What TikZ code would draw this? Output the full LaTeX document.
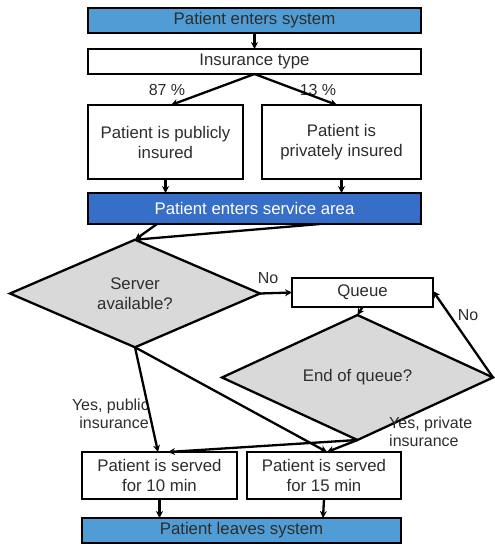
\documentclass[tikz,border=0pt]{standalone}
\usepackage{fontspec}
\setmainfont{Liberation Sans}
\usetikzlibrary{shapes.geometric,arrows.meta}
\definecolor{lblue}{RGB}{80,157,214}
\definecolor{dblue}{RGB}{54,110,200}
\definecolor{dgray}{RGB}{217,217,217}
\definecolor{txt}{RGB}{45,45,45}
\begin{document}
\begin{tikzpicture}[x=1pt,y=-1pt,
  base/.style={draw=black,line width=2.3pt,inner sep=0pt,outer sep=0pt,align=center,text=txt,
    font=\fontsize{16.8}{20}\selectfont},
  box/.style={base,rectangle},
  decision/.style={base,diamond,fill=dgray},
  lbl/.style={text=txt,font=\fontsize{16}{18}\selectfont,inner sep=0pt},
  arr/.style={line width=2.3pt,-{Stealth[length=7pt,width=7pt]}}]
\useasboundingbox (0,0) rectangle (495,544);
% nodes
\node[box,fill=lblue,minimum width=333pt,minimum height=25pt] (enter) at (254.5,20.5) {Patient enters system};
\node[box,fill=white,minimum width=333pt,minimum height=25pt] (ins) at (254.5,61.5) {Insurance type};
\node[box,fill=white,minimum width=155pt,minimum height=74pt] (pub) at (165.5,142) {Patient is publicly\\insured};
\node[box,fill=white,minimum width=159pt,minimum height=74pt] (priv) at (341.5,142) {Patient is\\privately insured};
\node[box,fill=dblue,text=white,minimum width=333pt,minimum height=31pt] (area) at (254.5,208.5) {Patient enters service area};
\node[decision,minimum width=250pt,minimum height=83pt] (sa) at (135,293.5) {Server\\available?};
\node[box,fill=white,minimum width=141pt,minimum height=29pt] (queue) at (362.5,292.5) {Queue};
\node[decision,minimum width=271pt,minimum height=89pt] (eq) at (357.5,377.5) {End of queue?};
\node[box,fill=white,minimum width=155pt,minimum height=47pt] (s10) at (159.5,475.5) {Patient is served\\for 10 min};
\node[box,fill=white,minimum width=154pt,minimum height=47pt] (s15) at (324,475.5) {Patient is served\\for 15 min};
\node[box,fill=lblue,minimum width=319pt,minimum height=25pt] (leave) at (241.5,530.5) {Patient leaves system};
% labels
\node[lbl] (l87) at (167,90) {87 \%};
\node[lbl] (l13) at (318,90) {13 \%};
\node[lbl] (lno1) at (268,278) {No};
\node[lbl] (lno2) at (468,315) {No};
\node[lbl,align=right,anchor=east] (lyes1) at (149,414) {Yes, public\\insurance};
\node[lbl,align=left,anchor=west] (lyes2) at (389,432) {Yes, private\\insurance};
% connectors
\draw[arr] (enter.south) -- (ins.north);
\draw[arr] (ins.south) -- ([xshift=5.5pt]pub.north);
\draw[arr] (ins.south) -- ([xshift=-4.5pt]priv.north);
\draw[arr] (pub.south) -- (pub.south |- area.north);
\draw[arr] (priv.south) -- (priv.south |- area.north);
\draw[arr] ([xshift=-97.5pt]area.south) -- (sa.north);
\draw[arr] ([xshift=65.5pt]area.south) -- (sa.north);
\draw[arr] (sa.east) -- (queue.west);
\draw[arr] (queue.south) -- (eq.north);
\draw[arr] (eq.east) -- ([yshift=1.5pt]queue.east);
\draw[arr] (sa.south) -- ([xshift=-1.5pt]s10.north);
\draw[arr] (sa.south) -- ([xshift=3pt]s15.north);
\draw[arr] (eq.south) -- ([xshift=8.5pt]s10.north);
\draw[arr] (eq.south) -- ([xshift=3pt]s15.north);
\draw[arr] (s10.south) -- (s10.south |- leave.north);
\draw[arr] (s15.south) -- ([xshift=-1pt]s15.south |- leave.north);
\end{tikzpicture}
\end{document}
